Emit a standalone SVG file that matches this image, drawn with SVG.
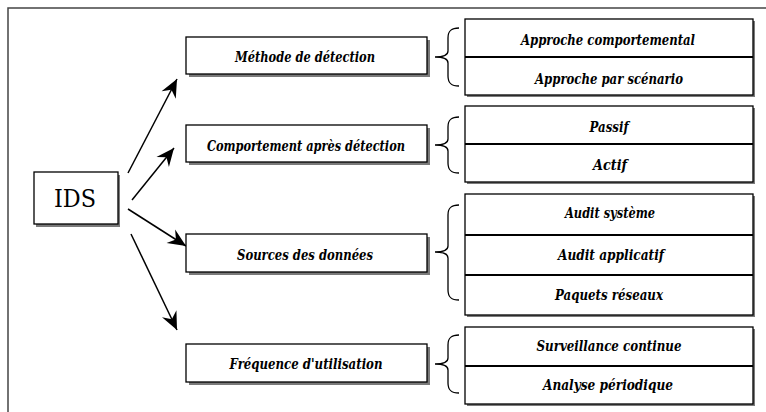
<svg xmlns="http://www.w3.org/2000/svg" width="766" height="412" viewBox="0 0 766 412">
<style>
.sh{fill:#7a7a7a}
.bx{fill:#fff;stroke:#000;stroke-width:1.3}
.t{font-family:'DejaVu Serif',serif;font-size:14px;font-weight:bold;font-style:italic;text-anchor:middle;fill:#000}
.ids{font-family:'DejaVu Serif',serif;font-size:25px;text-anchor:middle;fill:#000}
.br{fill:none;stroke:#000;stroke-width:1.3}
.ar{fill:none;stroke:#000;stroke-width:1.5}
.dv{stroke:#000;stroke-width:2}
</style>
<defs>
<marker id="ah" markerUnits="userSpaceOnUse" markerWidth="22" markerHeight="22" viewBox="-19 -11 22 22" refX="0" refY="0" orient="auto">
<path d="M0,0 L-18,-8 L-12,0 L-18,8 Z" fill="#000"/>
</marker>
</defs>
<rect width="766" height="412" fill="#fff"/>
<path d="M8,412 V8 H766" fill="none" stroke="#444" stroke-width="1.5"/>

<g id="ids">
<rect class="sh" x="36" y="175" width="84" height="52"/>
<rect class="bx" x="34" y="172" width="84" height="52"/>
<text class="ids" x="75" y="207" textLength="42" lengthAdjust="spacingAndGlyphs">IDS</text>
</g>

<g id="connectors">
<path class="ar" d="M128,173 L177,79" marker-end="url(#ah)"/>
<path class="ar" d="M132,200 L174,148" marker-end="url(#ah)"/>
<path class="ar" d="M128,209 L186,246" marker-end="url(#ah)"/>
<path class="ar" d="M131,234 L177,330" marker-end="url(#ah)"/>
</g>

<g id="methode">
<rect class="sh" x="189" y="40" width="241" height="37"/>
<rect class="bx" x="186" y="37" width="241" height="37"/>
<text class="t" x="305" y="62" textLength="140" lengthAdjust="spacingAndGlyphs">Méthode de détection</text>
</g>
<g id="comportement">
<rect class="sh" x="189" y="128" width="241" height="37"/>
<rect class="bx" x="186" y="125" width="241" height="37"/>
<text class="t" x="306" y="151" textLength="198" lengthAdjust="spacingAndGlyphs">Comportement après détection</text>
</g>
<g id="sources">
<rect class="sh" x="189" y="237" width="241" height="38"/>
<rect class="bx" x="186" y="234" width="241" height="38"/>
<text class="t" x="305" y="260" textLength="136" lengthAdjust="spacingAndGlyphs">Sources des données</text>
</g>
<g id="frequence">
<rect class="sh" x="189" y="347" width="241" height="38"/>
<rect class="bx" x="186" y="344" width="241" height="38"/>
<text class="t" x="306" y="369" textLength="153" lengthAdjust="spacingAndGlyphs">Fréquence d'utilisation</text>
</g>

<g id="braces">
<path class="br" d="M459,28 C451,28 448,31 448,38 V51 C448,55 444,57 435,57 C444,57 448,59 448,63 V76 C448,83 451,86 459,86"/>
<path class="br" d="M459,117 C451,117 448,120 448,127 V139 C448,143 444,145 435,145 C444,145 448,147 448,151 V163 C448,170 451,173 459,173"/>
<path class="br" d="M459,205 C451,205 448,208 448,215 V246 C448,250 444,252 435,252 C444,252 448,254 448,258 V290 C448,297 451,300 459,300"/>
<path class="br" d="M459,335 C451,335 448,338 448,345 V358 C448,362 444,364 435,364 C444,364 448,366 448,370 V383 C448,390 451,393 459,393"/>
</g>

<g id="group1">
<rect class="sh" x="467" y="21" width="288" height="76"/>
<rect class="bx" x="465" y="19" width="288" height="76"/>
<line class="dv" x1="465" y1="57" x2="753" y2="57"/>
<text class="t" x="608" y="45" textLength="174" lengthAdjust="spacingAndGlyphs">Approche comportemental</text>
<text class="t" x="609" y="84" textLength="148" lengthAdjust="spacingAndGlyphs">Approche par scénario</text>
</g>
<g id="group2">
<rect class="sh" x="467" y="108" width="288" height="76"/>
<rect class="bx" x="465" y="106" width="288" height="76"/>
<line class="dv" x1="465" y1="144" x2="753" y2="144"/>
<text class="t" x="609" y="132" textLength="39" lengthAdjust="spacingAndGlyphs">Passif</text>
<text class="t" x="610" y="170" textLength="34" lengthAdjust="spacingAndGlyphs">Actif</text>
</g>
<g id="group3">
<rect class="sh" x="467" y="196" width="288" height="121"/>
<rect class="bx" x="465" y="194" width="288" height="121"/>
<line class="dv" x1="465" y1="235" x2="753" y2="235"/>
<line class="dv" x1="465" y1="275" x2="753" y2="275"/>
<text class="t" x="610" y="218" textLength="90" lengthAdjust="spacingAndGlyphs">Audit système</text>
<text class="t" x="611" y="260" textLength="106" lengthAdjust="spacingAndGlyphs">Audit applicatif</text>
<text class="t" x="609" y="300" textLength="108" lengthAdjust="spacingAndGlyphs">Paquets réseaux</text>
</g>
<g id="group4">
<rect class="sh" x="467" y="329" width="288" height="77"/>
<rect class="bx" x="465" y="327" width="288" height="77"/>
<line class="dv" x1="465" y1="366" x2="753" y2="366"/>
<text class="t" x="609" y="351" textLength="145" lengthAdjust="spacingAndGlyphs">Surveillance continue</text>
<text class="t" x="608" y="390" textLength="130" lengthAdjust="spacingAndGlyphs">Analyse périodique</text>
</g>
</svg>
